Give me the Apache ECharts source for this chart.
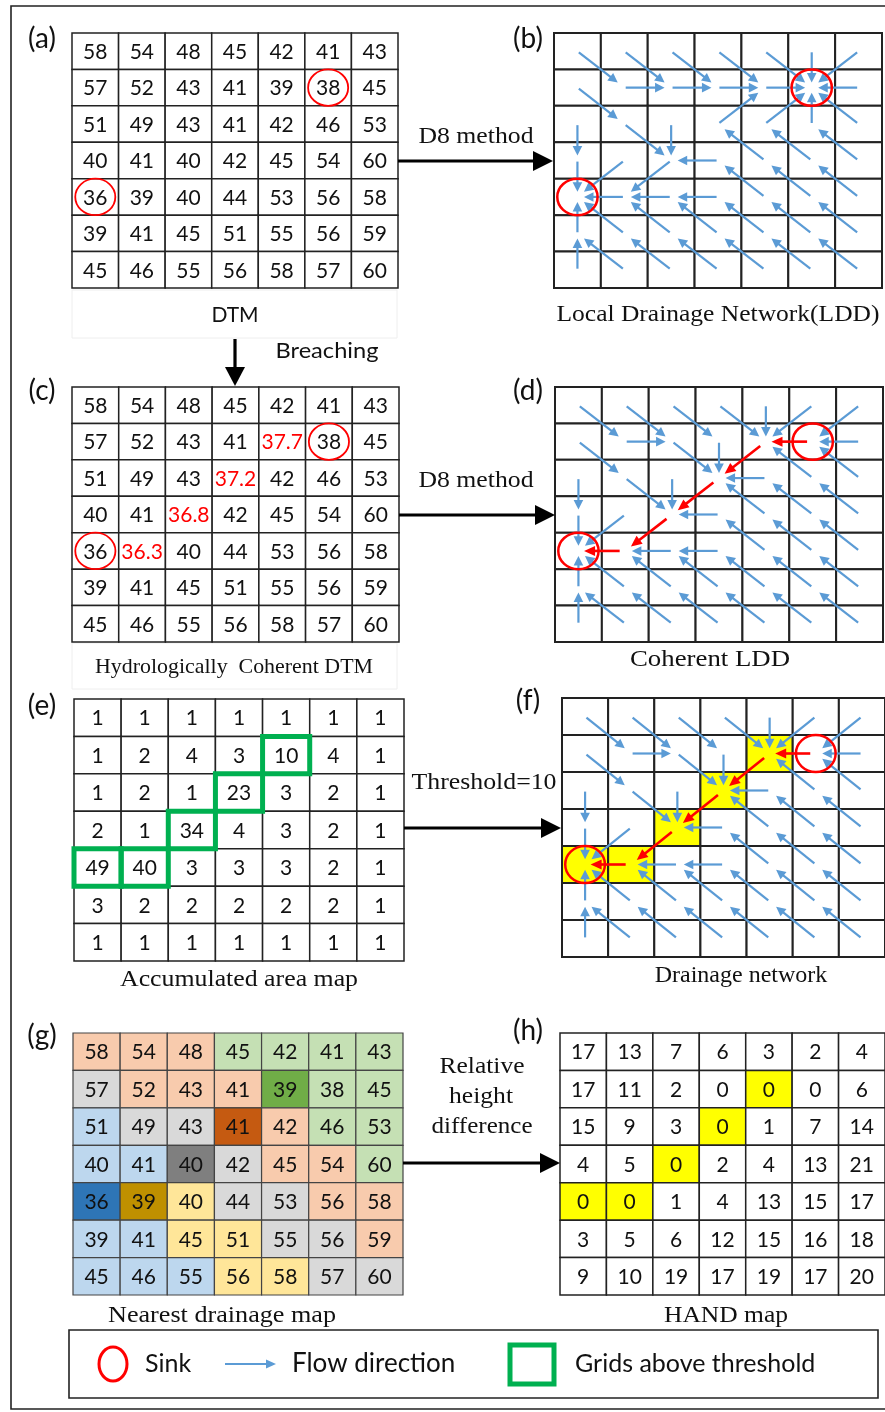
<!DOCTYPE html>
<html><head><meta charset="utf-8">
<script src="https://cdn.jsdelivr.net/npm/echarts/dist/echarts.min.js"></script>
<style>html,body{margin:0;padding:0;background:#fff}#c{width:885px;height:1412px}</style>
</head><body><div id="c"></div>
<script>
// ---------------- data ----------------
const cols = ['0','1','2','3','4','5','6'];
const rows = ['0','1','2','3','4','5','6'];
const dtm = [
 [58,54,48,45,42,41,43],
 [57,52,43,41,39,38,45],
 [51,49,43,41,42,46,53],
 [40,41,40,42,45,54,60],
 [36,39,40,44,53,56,58],
 [39,41,45,51,55,56,59],
 [45,46,55,56,58,57,60]];
const coherentDtm = [
 ['58','54','48','45','42','41','43'],
 ['57','52','43','41','37.7','38','45'],
 ['51','49','43','37.2','42','46','53'],
 ['40','41','36.8','42','45','54','60'],
 ['36','36.3','40','44','53','56','58'],
 ['39','41','45','51','55','56','59'],
 ['45','46','55','56','58','57','60']];
const breachedCells = [[1,4],[2,3],[3,2],[4,1]];
const sinkCells = [[1,5],[4,0]];
const lddDirections = [
 ['SE','SE','SE','SE','SE','S','SW'],
 ['SE','E','E','E','E','','W'],
 ['S','SE','S','NE','NE','N','NW'],
 ['S','SW','SW','W','NW','NW','NW'],
 ['','W','W','W','NW','NW','NW'],
 ['N','NW','NW','NW','NW','NW','NW'],
 ['N','NW','NW','NW','NW','NW','NW']];
const coherentDirections = [
 ['SE','SE','SE','SE','S','SW','SW'],
 ['SE','E','SE','S','SW','W','W'],
 ['S','SE','S','SW','W','NW','NW'],
 ['S','SW','SW','W','NW','NW','NW'],
 ['','W','W','W','NW','NW','NW'],
 ['N','NW','NW','NW','NW','NW','NW'],
 ['N','NW','NW','NW','NW','NW','NW']];
const breachPathCells = [[1,5],[1,4],[2,3],[3,2],[4,1]];
const accumulatedArea = [
 [1,1,1,1,1,1,1],
 [1,2,4,3,10,4,1],
 [1,2,1,23,3,2,1],
 [2,1,34,4,3,2,1],
 [49,40,3,3,3,2,1],
 [3,2,2,2,2,2,1],
 [1,1,1,1,1,1,1]];
const thresholdCells = [[1,4],[2,3],[3,2],[4,0],[4,1]];
const drainageCells = [[1,4],[2,3],[3,2],[4,0],[4,1]];
// nearest drainage class: upper case = contributing cell, lower case = drainage cell
const nearestClass = [
 ['O','O','O','G','G','G','G'],
 ['R','O','O','O','g','G','G'],
 ['B','R','R','o','O','G','G'],
 ['B','B','r','R','O','O','G'],
 ['b','y','Y','R','R','O','O'],
 ['B','B','Y','Y','R','R','O'],
 ['B','B','B','Y','Y','R','R']];
const handValues = [
 [17,13,7,6,3,2,4],
 [17,11,2,0,0,0,6],
 [15,9,3,0,1,7,14],
 [4,5,0,2,4,13,21],
 [0,0,1,4,13,15,17],
 [3,5,6,12,15,16,18],
 [9,10,19,17,19,17,20]];

// ---------------- styles ----------------
const classColors = {G:'#C5E0B4',g:'#70AD47',O:'#F8CBAD',o:'#C55A11',R:'#D9D9D9',r:'#7F7F7F',Y:'#FFE699',y:'#BF9000',B:'#BDD7EE',b:'#2E75B6'};
const SANS = 'Lato';
const SERIF = '"Liberation Serif"';
const NUMFONT = '21px ' + SANS;
const BLUE = '#5B9BD5';
const RED = '#FF0000';
const dirVec = {N:[0,-1],S:[0,1],E:[1,0],W:[-1,0],NE:[1,-1],NW:[-1,-1],SE:[1,1],SW:[-1,1]};
const has = (list,r,c)=>list.some(p=>p[0]===r&&p[1]===c);

const panels = [
 {left:72, top:33, width:326, height:255},   // a
 {left:554,top:33, width:328, height:255},   // b
 {left:72, top:387,width:327, height:255},   // c
 {left:555,top:387,width:328, height:255},   // d
 {left:74, top:699,width:330, height:262},   // e
 {left:562,top:698,width:327, height:259},   // f
 {left:73, top:1033,width:330,height:262},   // g
 {left:560,top:1033,width:326,height:262}];  // h

const allCells = [];
for (let r=0;r<7;r++) for (let c=0;c<7;c++) allCells.push([c,r]);

function cellSeries(gi, o){
  return {type:'custom', xAxisIndex:gi, yAxisIndex:gi, data:allCells, silent:true, z:1,
    renderItem(params, api){
      const c=api.value(0), r=api.value(1);
      const p=api.coord([c,r]), s=api.size([1,1]);
      const ch=[{type:'rect', shape:{x:p[0]-s[0]/2,y:p[1]-s[1]/2,width:s[0],height:s[1]},
        style:{fill:o.fill?o.fill(r,c):'#fff', stroke:o.stroke||'#222', lineWidth:o.lw||1.5}}];
      if (o.text) ch.push({type:'text', x:p[0], y:p[1]+1, style:{text:String(o.text(r,c)), fill:o.color?o.color(r,c):'#111', font:NUMFONT, align:'center', verticalAlign:'middle'}});
      return {type:'group', children:ch};
    }};
}
function arrowSeries(gi, dirs, redCells, red){
  const data=[];
  for (let r=0;r<7;r++) for (let c=0;c<7;c++){
    const d=dirs[r][c]; if(!d) continue;
    const isRed = has(redCells,r,c);
    if (isRed!==red) continue;
    data.push([c,r,dirVec[d][0],dirVec[d][1]]);
  }
  return {type:'custom', xAxisIndex:gi, yAxisIndex:gi, data, silent:true, z:red?6:5,
    renderItem(params, api){
      const c=api.value(0), r=api.value(1), dx=api.value(2), dy=api.value(3);
      const p0=api.coord([c,r]), p1=api.coord([c+dx,r+dy]);
      const t0=red?0.12:0.03, t1=red?0.88:0.86;
      const ax=p0[0]+(p1[0]-p0[0])*t0, ay=p0[1]+(p1[1]-p0[1])*t0;
      const bx=p0[0]+(p1[0]-p0[0])*t1, by=p0[1]+(p1[1]-p0[1])*t1;
      const L=Math.hypot(bx-ax,by-ay), ux=(bx-ax)/L, uy=(by-ay)/L;
      const hl=red?11:9.5, hw=red?5:4.8;
      const col=red?RED:BLUE;
      const mx=bx-ux*hl, my=by-uy*hl;
      return {type:'group', children:[
        {type:'line', shape:{x1:ax,y1:ay,x2:mx+ux*2,y2:my+uy*2}, style:{stroke:col, lineWidth:red?2.6:2.2}},
        {type:'polygon', shape:{points:[[bx,by],[mx-uy*hw,my+ux*hw],[mx+uy*hw,my-ux*hw]]}, style:{fill:col}}
      ]};
    }};
}
function sinkSeries(gi, lw){
  return {type:'custom', xAxisIndex:gi, yAxisIndex:gi, data:sinkCells.map(p=>[p[1],p[0]]), silent:true, z:7,
    renderItem(params, api){
      const p=api.coord([api.value(0),api.value(1)]), s=api.size([1,1]);
      return {type:'ellipse', shape:{cx:p[0],cy:p[1],rx:s[0]*0.43,ry:s[1]*0.5}, style:{fill:'none', stroke:RED, lineWidth:lw}};
    }};
}
function greenSeries(gi){
  return {type:'custom', xAxisIndex:gi, yAxisIndex:gi, data:thresholdCells.map(p=>[p[1],p[0]]), silent:true, z:8,
    renderItem(params, api){
      const p=api.coord([api.value(0),api.value(1)]), s=api.size([1,1]);
      return {type:'rect', shape:{x:p[0]-s[0]/2,y:p[1]-s[1]/2,width:s[0],height:s[1]}, style:{fill:'none', stroke:'#00B050', lineWidth:5}};
    }};
}

const series = [
  cellSeries(0,{text:(r,c)=>dtm[r][c]}), sinkSeries(0,1.8),
  cellSeries(1,{lw:2}), arrowSeries(1,lddDirections,[],false), sinkSeries(1,2.5),
  cellSeries(2,{text:(r,c)=>coherentDtm[r][c], color:(r,c)=>has(breachedCells,r,c)?RED:'#111'}), sinkSeries(2,1.8),
  cellSeries(3,{lw:2}), arrowSeries(3,coherentDirections,breachPathCells,false), arrowSeries(3,coherentDirections,breachPathCells,true), sinkSeries(3,2.5),
  cellSeries(4,{text:(r,c)=>accumulatedArea[r][c]}), greenSeries(4),
  cellSeries(5,{lw:2, fill:(r,c)=>has(drainageCells,r,c)?'#FFFF00':'#fff'}), arrowSeries(5,coherentDirections,breachPathCells,false), arrowSeries(5,coherentDirections,breachPathCells,true), sinkSeries(5,2.5),
  cellSeries(6,{stroke:'#444', lw:1.2, text:(r,c)=>dtm[r][c], fill:(r,c)=>classColors[nearestClass[r][c]]}),
  cellSeries(7,{text:(r,c)=>handValues[r][c], fill:(r,c)=>has(drainageCells,r,c)?'#FFFF00':'#fff'})
];

// ---------------- annotations ----------------
const G = [];
const mctx = document.createElement('canvas').getContext('2d');
function txt(t,x,y,font,opt){
  opt = opt||{};
  let sx = 1;
  if (opt.w){ mctx.font = font; const m = mctx.measureText(t).width; sx = Math.max(0.85, Math.min(1.3, opt.w/m)); }
  G.push({type:'text', x, y, z:opt.z||20, scaleX:sx, style:{text:t, font, fill:'#111', align:opt.align||'center', verticalAlign:'middle'}});
}
function hArrow(x1,x2,y){
  G.push({type:'line', z:20, shape:{x1,y1:y,x2:x2-18,y2:y}, style:{stroke:'#000', lineWidth:3.2}});
  G.push({type:'polygon', z:20, shape:{points:[[x2,y],[x2-20,y-10],[x2-20,y+10]]}, style:{fill:'#000'}});
}
G.push({type:'rect', z:0, shape:{x:11,y:6,width:880,height:1403}, style:{fill:'none', stroke:'#222', lineWidth:1.6}});
// label boxes
G.push({type:'rect', z:0, shape:{x:72,y:290,width:325,height:48}, style:{fill:'none', stroke:'#eeeeee', lineWidth:1}});
G.push({type:'rect', z:0, shape:{x:72,y:643,width:325,height:46}, style:{fill:'none', stroke:'#eeeeee', lineWidth:1}});
// panel letters
[['(a)',42,39],['(b)',528,39],['(c)',42,391],['(d)',528,391],['(e)',42,706],['(f)',528,701],['(g)',42,1036],['(h)',528,1031]]
 .forEach(l=>txt(l[0],l[1],l[2],'28px '+SANS));
// captions
txt('DTM',235,315,'21px '+SANS);
txt('Breaching',327,351,'22px '+SANS,{w:103});
txt('D8 method',476,137,'24px '+SERIF,{w:115});
txt('D8 method',476,481,'24px '+SERIF,{w:115});
txt('Threshold=10',484,783,'24px '+SERIF,{w:145});
txt('Relative',482,1067,'24px '+SERIF,{w:85});
txt('height',481,1097,'24px '+SERIF,{w:64});
txt('difference',482,1127,'24px '+SERIF,{w:101});
txt('Local Drainage Network(LDD)',718,315,'24px '+SERIF,{w:323});
txt('Hydrologically  Coherent DTM',234,667,'22px '+SERIF,{w:278});
txt('Coherent LDD',710,660,'24px '+SERIF,{w:160});
txt('Accumulated area map',239,980,'24px '+SERIF,{w:238});
txt('Drainage network',741,976,'24px '+SERIF);
txt('Nearest drainage map',222,1316,'24px '+SERIF,{w:228});
txt('HAND map',726,1316,'24px '+SERIF,{w:124});
// connecting arrows
hArrow(398,553,161);
hArrow(399,555,515);
hArrow(404,561,828);
hArrow(403,560,1163);
G.push({type:'line', z:20, shape:{x1:235,y1:339,x2:235,y2:370}, style:{stroke:'#000', lineWidth:3.2}});
G.push({type:'polygon', z:20, shape:{points:[[235,386],[225,367],[245,367]]}, style:{fill:'#000'}});
// legend
G.push({type:'rect', z:20, shape:{x:69,y:1330,width:809,height:68}, style:{fill:'#fff', stroke:'#222', lineWidth:1.6}});
G.push({type:'ellipse', z:21, shape:{cx:113,cy:1364,rx:14,ry:17}, style:{fill:'none', stroke:RED, lineWidth:3}});
txt('Sink',145,1364,'25px '+SANS,{z:21, align:'left'});
G.push({type:'line', z:21, shape:{x1:225,y1:1364,x2:268,y2:1364}, style:{stroke:BLUE, lineWidth:2.2}});
G.push({type:'polygon', z:21, shape:{points:[[276,1364],[266,1359.5],[266,1368.5]]}, style:{fill:BLUE}});
txt('Flow direction',292,1364,'26px '+SANS,{z:21, align:'left'});
G.push({type:'rect', z:21, shape:{x:510,y:1345,width:44,height:39}, style:{fill:'none', stroke:'#00B050', lineWidth:5}});
txt('Grids above threshold',575,1364,'25px '+SANS,{z:21, align:'left'});

const option = {
  animation:false,
  backgroundColor:'#fff',
  grid: panels.map(p=>Object.assign({show:false, containLabel:false}, p)),
  xAxis: panels.map((p,i)=>({type:'category', data:cols, gridIndex:i, show:false})),
  yAxis: panels.map((p,i)=>({type:'category', data:rows, gridIndex:i, inverse:true, show:false})),
  series,
  graphic:{elements:G}
};
const chart = echarts.init(document.getElementById('c'), null, {renderer:'canvas', width:885, height:1412});
chart.setOption(option);
</script></body></html>
